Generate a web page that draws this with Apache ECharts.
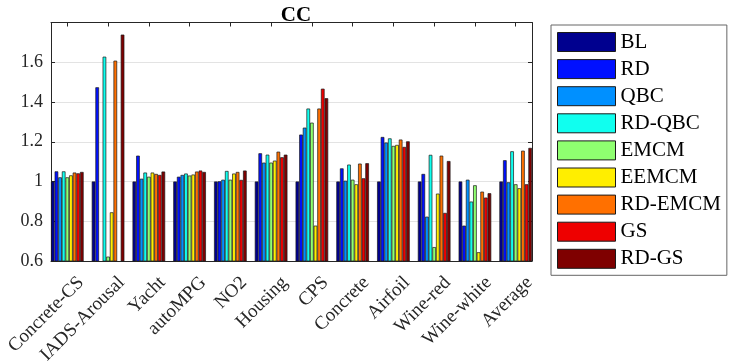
<!DOCTYPE html>
<html>
<head>
<meta charset="utf-8">
<script src="https://cdn.jsdelivr.net/npm/echarts@6/dist/echarts.min.js"></script>
<style>
html,body{margin:0;padding:0;background:#fff;}
#c{width:731px;height:361px;}
</style>
</head>
<body>
<div id="c"></div>
<script>
// ---- data ----
var categories = ['Concrete-CS','IADS-Arousal','Yacht','autoMPG','NO2','Housing','CPS','Concrete','Airfoil','Wine-red','Wine-white','Average'];
var methods = ['BL','RD','QBC','RD-QBC','EMCM','EEMCM','RD-EMCM','GS','RD-GS'];
var BL      = [1.000,1.000,1.000,1.000,1.000,1.000,1.000,1.000,1.000,1.000,1.000,1.000];
var RD      = [1.051,1.474,1.130,1.024,1.001,1.142,1.236,1.066,1.224,1.038,0.778,1.107];
var QBC     = [1.021,0.500,1.014,1.033,1.009,1.095,1.271,1.004,1.196,0.823,1.009,0.996];
var RD_QBC  = [1.051,1.628,1.045,1.040,1.053,1.135,1.367,1.085,1.217,1.134,0.899,1.152];
var EMCM    = [1.021,0.622,1.024,1.030,1.009,1.095,1.296,1.009,1.179,0.670,0.981,0.986];
var EEMCM   = [1.031,0.845,1.045,1.035,1.040,1.105,0.778,0.986,1.184,0.939,0.644,0.966];
var RD_EMCM = [1.045,1.608,1.038,1.050,1.048,1.150,1.367,1.090,1.211,1.130,0.949,1.155];
var GS      = [1.041,0.500,1.033,1.055,1.008,1.122,1.467,1.016,1.174,0.842,0.919,0.986];
var RD_GS   = [1.048,1.739,1.050,1.048,1.055,1.135,1.419,1.092,1.202,1.103,0.941,1.169];
var yTicks  = [0.6,0.8,1.0,1.2,1.4,1.6];
var colors  = ['#00008F','#0010FF','#0090FF','#10FFEF','#8FFF70','#FFEE00','#FF7000','#EE0000','#7F0000'];

var seriesValues = [BL,RD,QBC,RD_QBC,EMCM,EEMCM,RD_EMCM,GS,RD_GS];
var xPos = categories.map(function(_, i){ return i + 1; });
var LABEL_SHIFT = 0.17;
var xLabelPos = xPos.map(function(p){ return p + LABEL_SHIFT; });

var FONT = '"Liberation Serif","Times New Roman",serif';
var AX = '#262626';

var series = methods.map(function(name, k){
  return {
    name: name,
    type: 'bar',
    xAxisIndex: 0, yAxisIndex: 0,
    barGap: '0%',
    barCategoryGap: '20%',
    clip: true,
    itemStyle: { color: colors[k], borderColor: '#1a1a1a', borderWidth: 0.7 },
    emphasis: { disabled: true },
    data: seriesValues[k].map(function(v, i){ return [xPos[i], v]; })
  };
});

var chart = echarts.init(document.getElementById('c'), null, {renderer: 'canvas'});
chart.setOption({
  animation: false,
  backgroundColor: '#fff',
  title: {
    text: 'CC', left: 291, top: 0, textAlign: 'center',
    textStyle: { fontFamily: FONT, fontWeight: 'bold', fontSize: 21, color: '#000' }
  },
  grid: { left: 51, right: 199, top: 22.5, bottom: 100, containLabel: false, outerBoundsMode: 'none' },
  legend: {
    orient: 'vertical', left: 551, top: 25,
    padding: [6.5, 6, 6, 6],
    backgroundColor: '#fff',
    borderColor: '#666', borderWidth: 1,
    itemWidth: 58, itemHeight: 19, itemGap: 6.1,
    textStyle: { fontFamily: FONT, fontSize: 21, color: '#000', lineHeight: 19 },
    icon: 'rect',
    itemStyle: { borderColor: '#1a1a1a', borderWidth: 1 },
    data: methods
  },
  xAxis: [{
    type: 'value', position: 'bottom', min: 0.6, max: 12.4,
    axisLine: { show: true, lineStyle: { color: AX, width: 1 } },
    axisTick: { show: true, inside: true, length: 4, customValues: xPos, lineStyle: { color: AX } },
    axisLabel: {
      customValues: xLabelPos, rotate: 45, margin: 12, verticalAlign: 'top',
      fontFamily: FONT, fontSize: 19, color: AX,
      formatter: function(v){ return categories[Math.round(v - LABEL_SHIFT) - 1] || ''; }
    },
    splitLine: { show: false }
  },{
    type: 'value', position: 'top', min: 0.6, max: 12.4,
    axisLine: { show: true, lineStyle: { color: AX, width: 1 } },
    axisTick: { show: true, inside: true, length: 4, customValues: xPos, lineStyle: { color: AX } },
    axisLabel: { show: false },
    splitLine: { show: false }
  }],
  yAxis: [{
    type: 'value', position: 'left', min: 0.6, max: 1.8, interval: 0.2,
    axisLine: { show: true, lineStyle: { color: AX, width: 1 } },
    axisTick: { show: true, inside: true, length: 4, lineStyle: { color: AX } },
    axisLabel: {
      margin: 8, fontFamily: FONT, fontSize: 18, color: AX,
      formatter: function(v){
        var r = Math.round(v * 10) / 10;
        return yTicks.indexOf(r) >= 0 ? String(r) : '';
      }
    },
    splitLine: { show: true, lineStyle: { color: '#e3e3e3', width: 1 } }
  },{
    type: 'value', position: 'right', min: 0.6, max: 1.8, interval: 0.2,
    axisLine: { show: true, lineStyle: { color: AX, width: 1 } },
    axisTick: { show: true, inside: true, length: 4, lineStyle: { color: AX } },
    axisLabel: { show: false },
    splitLine: { show: false }
  }],
  series: series
});
</script>
</body>
</html>
